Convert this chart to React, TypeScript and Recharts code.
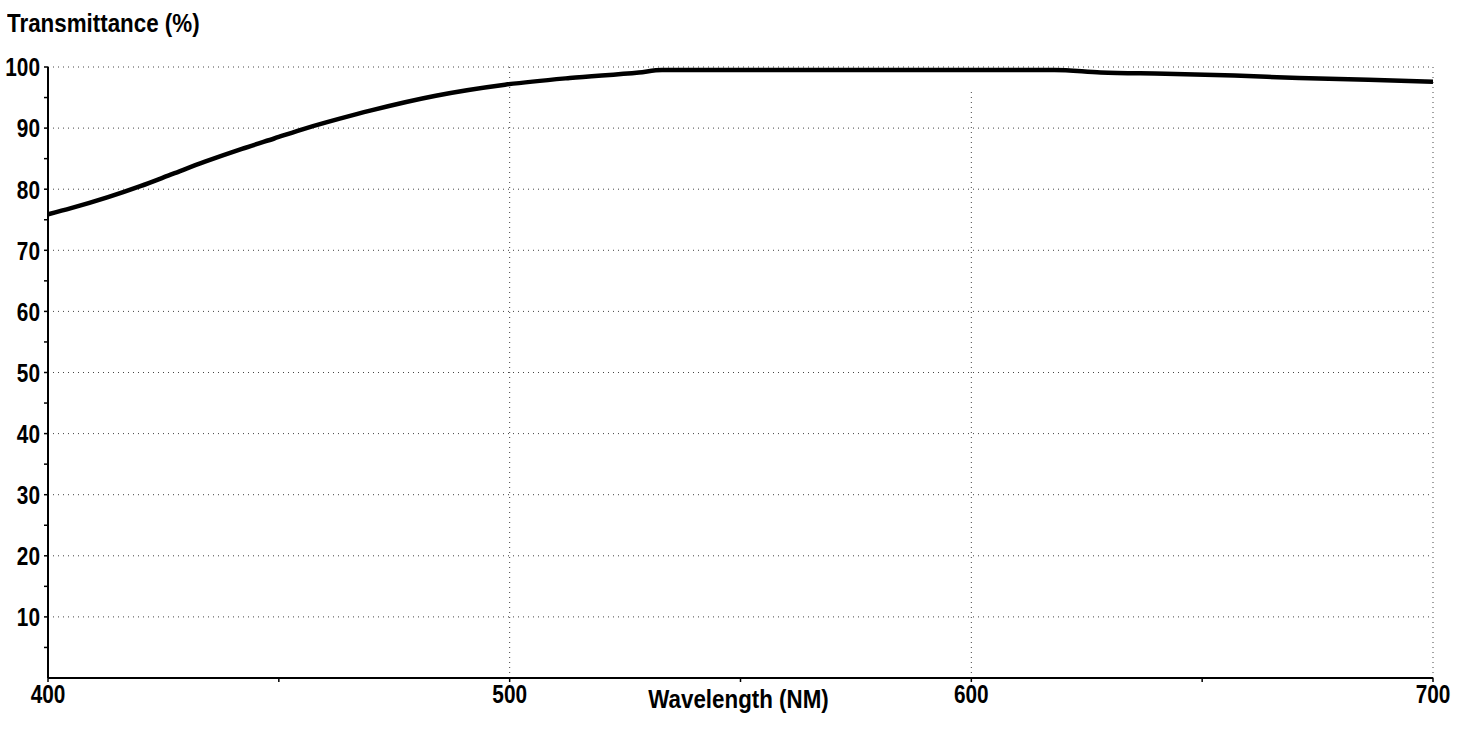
import {
  Label,
  Line,
  LineChart,
  ReferenceLine,
  XAxis,
  YAxis,
} from "recharts";

// spectrum
const wavelengths = [
  400, 405, 413, 420, 427, 434, 442, 449, 456, 463, 470, 484, 499, 513, 528,
  533, 618, 628, 642, 657, 671, 686, 700,
];
const transmittance = [
  75.9, 76.9, 78.7, 80.5, 82.5, 84.5, 86.6, 88.3, 90.0, 91.5, 92.9, 95.3, 97.1,
  98.2, 99.1, 99.5, 99.5, 99.1, 98.9, 98.6, 98.2, 97.9, 97.6,
];

const xTicks = [400, 450, 500, 550, 600, 650, 700];
const yTicks = [5, 10, 15, 20, 25, 30, 35, 40, 45, 50, 55, 60, 65, 70, 75, 80, 85, 90, 95, 100];
const yGrid = [10, 20, 30, 40, 50, 60, 70, 80, 90, 100];
const xGrid = [500, 700];

const data = wavelengths.map((w, i) => ({ w, t: transmittance[i] }));

// no narrow font installed, so squeeze Liberation Sans
const font = "'Liberation Sans', Arial, sans-serif";

function NarrowText(props: any) {
  const { x, y, anchor, dy, squeeze = 0.8, children } = props;
  return (
    <text
      transform={`translate(${x},${y}) scale(${squeeze},1)`}
      x={0}
      y={0}
      dy={dy}
      textAnchor={anchor}
      fontFamily={font}
      fontWeight="bold"
      fontSize={26}
      fill="#000"
    >
      {children}
    </text>
  );
}

function YTick(props: any) {
  const { x, y, payload } = props;
  if (payload.value % 10 !== 0) return <g />;
  return (
    <NarrowText x={x} y={y} dy="0.36em" anchor="end">
      {payload.value}
    </NarrowText>
  );
}

function XTick(props: any) {
  const { x, y, payload } = props;
  if (payload.value % 100 !== 0) return <g />;
  return (
    <NarrowText x={x} y={y} dy="0.71em" anchor="middle">
      {payload.value}
    </NarrowText>
  );
}

export default function App() {
  return (
    <div style={{ position: "relative", width: 1467, height: 737, background: "#fff" }}>
      <style>{"body{margin:0}"}</style>
      <div
        style={{
          position: "absolute",
          left: 7,
          top: 6,
          fontFamily: font,
          fontWeight: "bold",
          fontSize: 26,
          color: "#000",
          lineHeight: "34px",
          transform: "scaleX(0.86)",
          transformOrigin: "left top",
          whiteSpace: "nowrap",
          zIndex: 1,
        }}
      >
        Transmittance (%)
      </div>
      <LineChart
        width={1467}
        height={737}
        data={data}
        margin={{ top: 67, right: 34, bottom: 0, left: 0 }}
      >
        {yGrid.map((v) => (
          <ReferenceLine key={"y" + v} y={v} stroke="#444" strokeDasharray="1 4" />
        ))}
        {xGrid.map((v) => (
          <ReferenceLine key={"x" + v} x={v} stroke="#444" strokeDasharray="1 4" />
        ))}
        <ReferenceLine
          segment={[{ x: 600, y: 0 }, { x: 600, y: 96 }]}
          stroke="#444"
          strokeDasharray="1 4"
        />
        <XAxis
          dataKey="w"
          type="number"
          domain={[400, 700]}
          ticks={xTicks}
          height={59}
          tickSize={4}
          tickMargin={3}
          axisLine={{ stroke: "#000", strokeWidth: 2 }}
          tickLine={{ stroke: "#000", strokeWidth: 1.5 }}
          tick={<XTick />}
          interval={0}
        >
          <Label
            content={(p: any) => {
              const vb = p.viewBox;
              return (
                <NarrowText x={vb.x + vb.width / 2 - 2} y={vb.y + 12} dy="0.71em" anchor="middle" squeeze={0.86}>
                  Wavelength (NM)
                </NarrowText>
              );
            }}
          />
        </XAxis>
        <YAxis
          type="number"
          domain={[0, 100]}
          ticks={yTicks}
          width={48}
          tickSize={4}
          tickMargin={4}
          axisLine={{ stroke: "#000", strokeWidth: 2 }}
          tickLine={{ stroke: "#000", strokeWidth: 1.5 }}
          tick={<YTick />}
          interval={0}
        />
        <Line
          type="monotone"
          dataKey="t"
          stroke="#000"
          strokeWidth={4.5}
          dot={false}
          isAnimationActive={false}
        />
      </LineChart>
    </div>
  );
}
